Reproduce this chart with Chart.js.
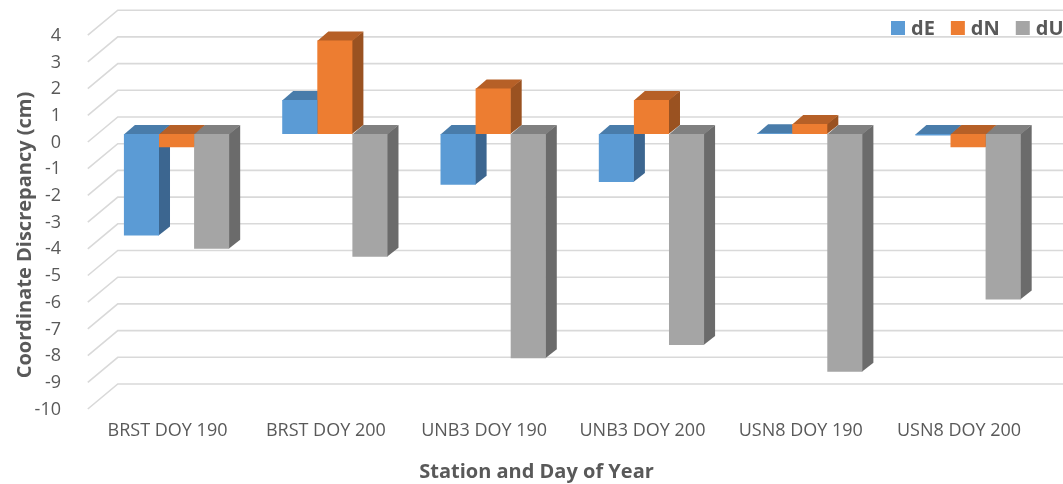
<!DOCTYPE html>
<html>
<head>
<meta charset="utf-8">
<script src="https://cdn.jsdelivr.net/npm/chart.js@4.4.1/dist/chart.umd.min.js"></script>
<style>
  html, body { margin: 0; padding: 0; background: #fff; }
  #wrap { position: relative; width: 1063px; height: 484px; }
</style>
</head>
<body>
<div id="wrap"><canvas id="c"></canvas></div>
<script>
// Station / day-of-year categories
const stations = ['BRST DOY 190', 'BRST DOY 200', 'UNB3 DOY 190', 'UNB3 DOY 200', 'USN8 DOY 190', 'USN8 DOY 200'];
// Coordinate discrepancies (cm)
const dE = [-3.8, 1.27, -1.9, -1.8, 0.03, -0.06];
const dN = [-0.5, 3.5, 1.7, 1.27, 0.37, -0.5];
const dU = [-4.3, -4.6, -8.4, -7.9, -8.9, -6.2];
const seriesNames = ['dE', 'dN', 'dU'];
// Value axis ticks
const yMin = -10;
const yMax = 4;
const yStep = 1;

// Styling
const FRONT = ['#5B9BD5', '#ED7D31', '#A5A5A5'];
const TOP   = ['#497CAA', '#B66027', '#808080'];
const SIDE  = ['#3C6690', '#9A5221', '#6B6B6B'];
const TEXT = '#595959';
const GRID = '#D9D9D9';
const FONT = "'Open Sans', 'DejaVu Sans', sans-serif";

// Oblique projection offsets (pixels)
const BAR_DX = 11, BAR_DY = 9;        // depth of each column
const BACK_DX = 20.4, BACK_DY = 17;   // column front plane -> back wall
const FRONT_DX = 9.6, FRONT_DY = 8;   // column front plane -> front edge of floor

// Back wall gridlines with their receding edges
const wallGrid = {
  id: 'wallGrid',
  beforeDatasetsDraw(chart) {
    const { ctx, chartArea: a } = chart;
    const ys = chart.scales.y;
    ctx.save();
    ctx.strokeStyle = GRID;
    ctx.lineWidth = 1.6;
    for (let v = yMin; v <= yMax; v += yStep) {
      const p = ys.getPixelForValue(v);
      ctx.beginPath();
      ctx.moveTo(a.left - FRONT_DX, p + FRONT_DY);
      ctx.lineTo(a.left + BACK_DX, p - BACK_DY);
      ctx.lineTo(a.right + BACK_DX, p - BACK_DY);
      ctx.stroke();
    }
    ctx.restore();
  }
};

// Top and right-hand faces of each column; the library draws the front faces afterwards
const columnFaces = {
  id: 'columnFaces',
  beforeDatasetsDraw(chart) {
    const { ctx } = chart;
    const n = chart.data.labels.length;
    ctx.save();
    for (let i = 0; i < n; i++) {
      chart.data.datasets.forEach((ds, d) => {
        const el = chart.getDatasetMeta(d).data[i];
        if (!el) return;
        const { x, y, base, width } = el.getProps(['x', 'y', 'base', 'width'], true);
        const L = x - width / 2, R = x + width / 2;
        const top = Math.min(y, base), bot = Math.max(y, base);
        // right side
        ctx.fillStyle = SIDE[d];
        ctx.beginPath();
        ctx.moveTo(R - 0.5, top);
        ctx.lineTo(R + BAR_DX, top - BAR_DY);
        ctx.lineTo(R + BAR_DX, bot - BAR_DY);
        ctx.lineTo(R - 0.5, bot);
        ctx.closePath();
        ctx.fill();
        // top
        ctx.fillStyle = TOP[d];
        ctx.beginPath();
        ctx.moveTo(L, top + 0.5);
        ctx.lineTo(R, top + 0.5);
        ctx.lineTo(R + BAR_DX, top - BAR_DY);
        ctx.lineTo(L + BAR_DX, top - BAR_DY);
        ctx.closePath();
        ctx.fill();
      });
    }
    ctx.restore();
  }
};

// Axis titles and legend
const annotations = {
  id: 'annotations',
  afterDraw(chart) {
    const { ctx } = chart;
    ctx.save();
    ctx.fillStyle = TEXT;
    ctx.font = `bold 20px ${FONT}`;
    ctx.textAlign = 'center';
    ctx.textBaseline = 'alphabetic';
    ctx.fillText('Station and Day of Year', 536.5, 478);
    ctx.translate(30.5, 235);
    ctx.rotate(-Math.PI / 2);
    ctx.fillText('Coordinate Discrepancy (cm)', 0, 0);
    ctx.restore();

    // legend
    ctx.save();
    ctx.font = `bold 20px ${FONT}`;
    ctx.textAlign = 'left';
    ctx.textBaseline = 'alphabetic';
    let lx = 891;
    chart.data.datasets.forEach((ds, d) => {
      ctx.fillStyle = FRONT[d];
      ctx.fillRect(lx, 21, 14, 14);
      ctx.fillStyle = TEXT;
      ctx.fillText(ds.label, lx + 20, 35);
      lx += 20 + ctx.measureText(ds.label).width + 16;
    });
    ctx.restore();
  }
};

const tickFont = { family: FONT, size: 18 };
const noEdgePadding = s => { s.paddingTop = 0; s.paddingBottom = 0; s.paddingLeft = 0; s.paddingRight = 0; };

new Chart(document.getElementById('c'), {
  type: 'bar',
  data: {
    labels: stations,
    datasets: [dE, dN, dU].map((vals, d) => ({
      label: seriesNames[d],
      data: vals,
      backgroundColor: FRONT[d],
      borderWidth: 0,
      barPercentage: 1,
      categoryPercentage: 0.665
    }))
  },
  options: {
    responsive: true,
    maintainAspectRatio: false,
    animation: false,
    devicePixelRatio: 1,
    layout: { padding: { top: 27.2, right: 15.8, bottom: 0, left: 0 } },
    plugins: { legend: { display: false }, tooltip: { enabled: false } },
    scales: {
      x: {
        grid: { display: false },
        border: { display: false },
        ticks: { color: TEXT, font: tickFont, padding: 11, labelOffset: -9, maxRotation: 0, autoSkip: false },
        afterFit: s => { s.height = 83; noEdgePadding(s); }
      },
      y: {
        min: yMin,
        max: yMax,
        grid: { display: false },
        border: { display: false },
        ticks: { stepSize: yStep, color: TEXT, font: tickFont, padding: 28.4, labelOffset: 8.5 },
        afterFit: s => { s.width = 97.4; noEdgePadding(s); }
      }
    }
  },
  plugins: [wallGrid, columnFaces, annotations]
});
</script>
</body>
</html>
